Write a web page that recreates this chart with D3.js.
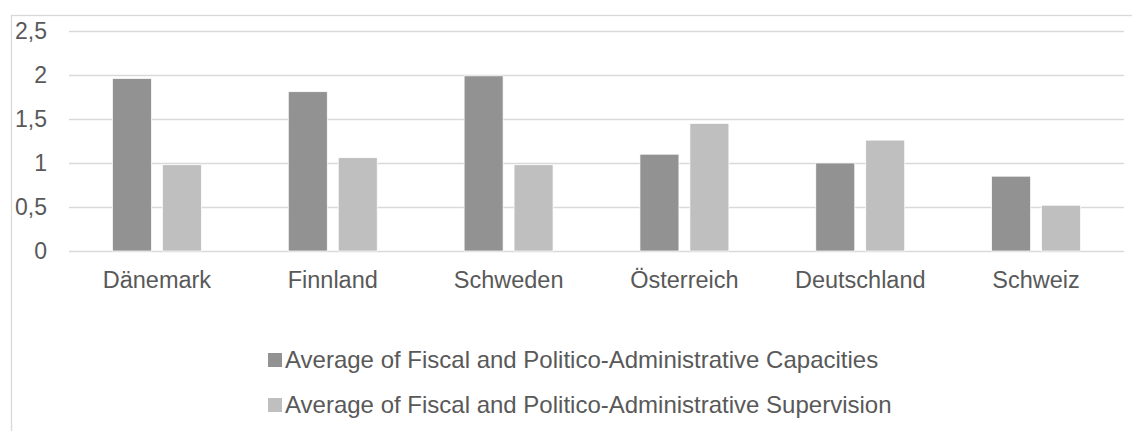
<!DOCTYPE html>
<html>
<head>
<meta charset="utf-8">
<script src="https://cdn.jsdelivr.net/npm/d3@7"></script>
<style>
html,body{margin:0;padding:0;background:#fff;}
svg{display:block;}
text{font-family:"Liberation Sans",Arial,sans-serif;fill:#595959;}
</style>
</head>
<body>
<svg id="chart" width="1132" height="431"></svg>
<script>
const categories = ["Dänemark","Finnland","Schweden","Österreich","Deutschland","Schweiz"];
const seriesNames = ["Average of Fiscal and Politico-Administrative Capacities","Average of Fiscal and Politico-Administrative Supervision"];
const capacities = [1.96, 1.81, 1.99, 1.10, 1.00, 0.85];
const supervision = [0.98, 1.06, 0.98, 1.45, 1.26, 0.52];
const yTicks = [0, 0.5, 1, 1.5, 2, 2.5];
const colors = ["#929292", "#bfbfbf"];

const svg = d3.select("#chart");

// frame
svg.append("rect").attr("x",11.5).attr("y",15.5).attr("width",1200).attr("height",500)
  .attr("fill","none").attr("stroke","#d9d9d9").attr("stroke-width",1.3);

const plotL = 69, plotR = 1124, y0 = 251, yTop = 31;
const x0 = d3.scaleBand().domain(categories).range([plotL, plotR]).padding(0);
const x1 = d3.scaleBand().domain(seriesNames).range([0, x0.bandwidth()]).paddingInner(0.22).paddingOuter(0.87);
const y = d3.scaleLinear().domain([0, 2.5]).range([y0, yTop]);

const locale = d3.formatLocale({decimal:",", thousands:".", grouping:[3], currency:["","€"]});
const fmt = v => locale.format("")(v);

// gridlines
svg.append("g").selectAll("line").data(yTicks).join("line")
  .attr("x1", plotL).attr("x2", plotR)
  .attr("y1", d => Math.round(y(d))+0.5).attr("y2", d => Math.round(y(d))+0.5)
  .attr("stroke","#d9d9d9").attr("stroke-width",1.3);

// y labels
svg.append("g").selectAll("text").data(yTicks).join("text")
  .attr("x", 47).attr("y", d => y(d)).attr("dy","0.36em")
  .attr("text-anchor","end").attr("font-size","23px").text(d => fmt(d));

// bars
const data = categories.map((c,i) => ({cat:c, vals:[capacities[i], supervision[i]]}));
const groups = svg.append("g").selectAll("g").data(data).join("g")
  .attr("transform", d => `translate(${x0(d.cat)},0)`);
groups.selectAll("rect").data(d => d.vals.map((v,j)=>({name:seriesNames[j], v, j}))).join("rect")
  .attr("x", d => x1(d.name)).attr("width", x1.bandwidth())
  .attr("y", d => y(d.v)).attr("height", d => y(0) - y(d.v))
  .attr("fill", d => colors[d.j]).attr("stroke","#ffffff").attr("stroke-width",0.7);

// category labels
svg.append("g").selectAll("text").data(categories).join("text")
  .attr("x", d => x0(d) + x0.bandwidth()/2).attr("y", 288)
  .attr("text-anchor","middle").attr("font-size","23.5px").text(d => d);

// legend
const leg = svg.append("g").selectAll("g").data(seriesNames).join("g")
  .attr("transform", (d,i) => `translate(268,${353 + i*45})`);
leg.append("rect").attr("width",14).attr("height",14).attr("fill",(d,i)=>colors[i]);
leg.append("text").attr("x",17).attr("y",15).attr("font-size","24px").text(d => d);
</script>
</body>
</html>
